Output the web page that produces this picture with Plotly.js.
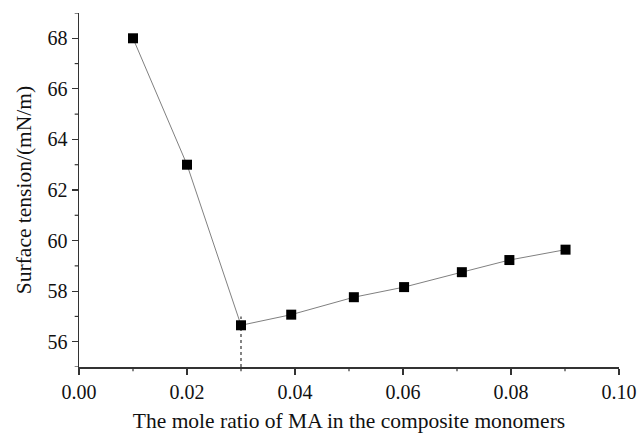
<!DOCTYPE html>
<html>
<head>
<meta charset="utf-8">
<script src="https://cdn.plot.ly/plotly-3.0.1.min.js"></script>
<style>html,body{margin:0;padding:0;background:#fff;}#chart{width:638px;height:433px;}</style>
</head>
<body>
<div id="chart"></div>
<script>
const moleRatio = [0.01, 0.02, 0.03, 0.0393, 0.0509, 0.0602, 0.0709, 0.0797, 0.0901];
const surfaceTension = [68.0, 63.0, 56.65, 57.07, 57.76, 58.16, 58.75, 59.23, 59.64];
const dropX = [0.03, 0.03];
const dropY = [55, 57.0];
const xTicks = [0, 0.02, 0.04, 0.06, 0.08, 0.10];
const xTickText = ["0.00", "0.02", "0.04", "0.06", "0.08", "0.10"];
const xMinor = [0.01, 0.03, 0.05, 0.07, 0.09];
const yMinor = [55, 57, 59, 61, 63, 65, 67, 69];

const fam = "Liberation Serif";

const traces = [
  {x: dropX, y: dropY, mode: "lines", line: {color: "#333", width: 1.2, dash: "dot"}, hoverinfo: "skip", showlegend: false},
  {x: moleRatio, y: surfaceTension, mode: "lines+markers",
   line: {color: "#808080", width: 1},
   marker: {symbol: "square", size: 10, color: "#000", line: {color: "#000", width: 0}},
   showlegend: false}
];

const shapes = [];
xMinor.forEach(function(v){
  shapes.push({type: "line", xref: "x", yref: "paper", x0: v, x1: v, y0: 0, y1: -0.012,
               line: {color: "#333", width: 1.2}, layer: "above"});
});
yMinor.forEach(function(v){
  shapes.push({type: "line", xref: "paper", yref: "y", y0: v, y1: v, x0: 0, x1: -0.008,
               line: {color: "#333", width: 1.2}, layer: "above"});
});

const layout = {
  width: 638, height: 433,
  margin: {l: 79, r: 19, t: 13, b: 66},
  paper_bgcolor: "#fff", plot_bgcolor: "#fff",
  font: {family: fam, size: 20, color: "#111111"},
  showlegend: false,
  shapes: shapes,
  xaxis: {
    range: [0, 0.10], tickvals: xTicks, ticktext: xTickText,
    showgrid: false, zeroline: false, showline: true, linecolor: "#333", linewidth: 1.5,
    ticks: "outside", ticklen: 6, tickwidth: 1.2, tickcolor: "#333",
    tickfont: {family: fam, size: 20, color: "#111111"},
    title: {text: "The mole ratio of MA in the composite monomers", font: {family: fam, size: 21.5, color: "#111111"}, standoff: 12}
  },
  yaxis: {
    range: [55, 69], tick0: 56, dtick: 2,
    showgrid: false, zeroline: false, showline: true, linecolor: "#333", linewidth: 1.5,
    ticks: "outside", ticklen: 6, tickwidth: 1.2, tickcolor: "#333",
    tickfont: {family: fam, size: 20, color: "#111111"},
    title: {text: "Surface tension/(mN/m)", font: {family: fam, size: 21.5, color: "#111111"}, standoff: 10}
  }
};

Plotly.newPlot("chart", traces, layout, {displayModeBar: false, staticPlot: true});
</script>
</body>
</html>
